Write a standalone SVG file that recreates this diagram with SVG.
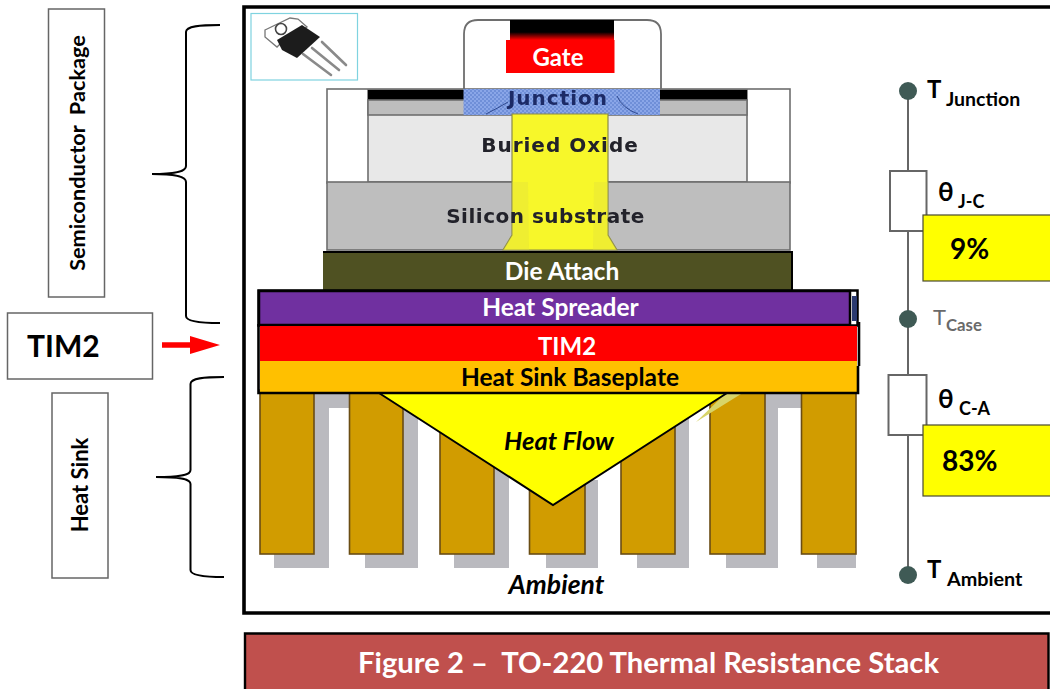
<svg xmlns="http://www.w3.org/2000/svg" width="1050" height="689" viewBox="0 0 1050 689">
<style>
text{font-family:Lato,"Liberation Sans",sans-serif;font-weight:700}
.w{fill:#fff;text-anchor:middle}
.k{fill:#000;text-anchor:middle}
.pk{font-family:"DejaVu Sans",sans-serif;fill:#24242c;text-anchor:middle;font-size:20px}
.fin{fill:#d19c00;stroke:#6a4d14;stroke-width:1.6}
.sh{fill:#bababf}
.lbl{fill:#fff;stroke:#666;stroke-width:1.5}
.brace{fill:none;stroke:#000;stroke-width:2}
.res{fill:#fff;stroke:#666;stroke-width:2}
.dot{fill:#3f5a55}
.yl{fill:#ff0;stroke:#4a4a30;stroke-width:1.2}
.wire{stroke:#666;stroke-width:2;fill:none}
.gr{stroke:#6e6e6e;stroke-width:1.6}
.lead{stroke:#8a8a8a;stroke-width:2.6;stroke-linecap:round}
</style>
<defs>
<pattern id="dots" width="4" height="4" patternUnits="userSpaceOnUse"><rect width="4" height="4" fill="#8aa6e8"/><rect width="2" height="2" fill="#6f8fd8"/><rect x="2" y="2" width="2" height="2" fill="#6f8fd8"/></pattern>
<linearGradient id="blackred" x1="0" y1="0" x2="0" y2="1"><stop offset="0" stop-color="#000"/><stop offset="0.6" stop-color="#000"/><stop offset="1" stop-color="#f00"/></linearGradient>
<filter id="soft" x="-5%" y="-5%" width="110%" height="110%"><feGaussianBlur stdDeviation="0.55"/></filter>
</defs>

<rect x="0" y="0" width="1050" height="689" fill="#fff"/>

<g id="frame"><path d="M1050 7H244V613H1050" fill="none" stroke="#000" stroke-width="3.6"/></g>

<g id="package-icon">
<rect x="251" y="13.500" width="106.500" height="66.500" fill="#fff" stroke="#7fd3e0" stroke-width="1.200"/>
<g filter="url(#soft)">
<line class="lead" x1="303" y1="54" x2="331" y2="75"/>
<line class="lead" x1="312" y1="48" x2="339" y2="70"/>
<line class="lead" x1="322" y1="42" x2="346" y2="65"/>
<path d="M265 30L290 18L298 19L307 27L280 44L277 47L265 37Z" fill="#fff" stroke="#777" stroke-width="1.300"/>
<circle cx="281" cy="29" r="5.500" fill="#fff" stroke="#444" stroke-width="1.600"/>
<path d="M277 40L302 25L320 37L297 58L282 50Z" fill="#1c1c1c"/>
</g>
</g>

<g id="fins">
<g filter="url(#soft)">
<rect class="sh" x="314" y="392" width="36" height="16"/>
<rect class="sh" x="765" y="392" width="37" height="16"/>
<rect class="sh" x="314" y="394" width="15" height="174"/><rect class="sh" x="274" y="554" width="55" height="14"/>
<rect class="sh" x="403" y="394" width="15" height="174"/><rect class="sh" x="365" y="554" width="53" height="14"/>
<rect class="sh" x="494" y="394" width="15" height="174"/><rect class="sh" x="454" y="554" width="55" height="14"/>
<rect class="sh" x="585" y="480" width="13" height="88"/><rect class="sh" x="546" y="554" width="52" height="14"/>
<rect class="sh" x="675" y="394" width="14" height="174"/><rect class="sh" x="637" y="554" width="52" height="14"/>
<rect class="sh" x="765" y="394" width="13" height="174"/><rect class="sh" x="726" y="554" width="52" height="14"/>
<rect class="sh" x="817" y="554" width="39" height="14"/>
</g>
<rect class="fin" x="260" y="390" width="54" height="164"/>
<rect class="fin" x="349.500" y="390" width="53.500" height="164"/>
<rect class="fin" x="440" y="390" width="54" height="164"/>
<rect class="fin" x="529.500" y="390" width="55.500" height="164"/>
<rect class="fin" x="621" y="390" width="54" height="164"/>
<rect class="fin" x="710" y="390" width="55" height="164"/>
<rect class="fin" x="801.500" y="390" width="54.500" height="164"/>
</g>

<g id="heat-flow">
<path d="M725 394H741L696 422Z" fill="#d8d468"/>
<path d="M379 393L553 505L727 393Z" fill="#ff0"/>
<path d="M379 393L553 505L727 393" fill="none" stroke="#000" stroke-width="2"/>
<text x="559" y="450" class="k" font-size="25.500" font-style="italic">Heat Flow</text>
</g>

<g id="gate-housing" filter="url(#soft)">
<path d="M464 90V34Q464 20 478 20H647Q661 20 661 34V90" fill="#fff" stroke="#6e6e6e" stroke-width="1.800"/>
<rect x="510" y="20" width="104" height="20" fill="url(#blackred)"/>
</g>
<g id="gate">
<rect x="506" y="40" width="108.500" height="33" fill="#f00"/>
<text x="558" y="66" class="w" font-size="24">Gate</text>
</g>

<g id="die-stack" filter="url(#soft)">
<rect x="327" y="89" width="463" height="94" fill="#fff" class="gr"/>
<rect x="368" y="90" width="379" height="92" fill="#e8e8e8" class="gr"/>
<rect x="368" y="90" width="379" height="10" fill="#000"/>
<rect x="368" y="100" width="379" height="15" fill="#bdbdbd" class="gr"/>
<rect x="327" y="182" width="463" height="68" fill="#bebebe" class="gr"/>
</g>
<g id="junction">
<rect x="463.500" y="89" width="196.500" height="26" fill="url(#dots)"/>
<path d="M486 114Q498 108 508 102M617 96Q622 108 638 114" fill="none" stroke="#2f4a90" stroke-width="1"/>
</g>
<g id="heat-column">
<path d="M512 114H608V235L617 250H503L512 235Z" fill="#f7f72a" stroke="#8a8a4a" stroke-width="1.200"/>
<path d="M512 182H528L529 250H503L512 235ZM608 182H594L593 250H617L608 235Z" fill="#e0dc40" opacity="0.35"/>
</g>
<g id="die-labels" filter="url(#soft)">
<text x="558" y="105" class="pk" letter-spacing="1" style="fill:#1c2a66">Junction</text>
<text x="560" y="152" class="pk" letter-spacing="1">Buried Oxide</text>
<text x="545.500" y="223" class="pk" letter-spacing="0.500">Silicon substrate</text>
</g>

<g id="die-attach">
<path d="M323 252H792V290H323Z" fill="#4f5122"/>
<path d="M323 252H792V290" fill="none" stroke="#000" stroke-width="2"/>
<text x="562" y="280" class="w" font-size="24.500">Die Attach</text>
</g>

<g id="heat-spreader">
<rect x="258.500" y="290.500" width="599" height="35" fill="#fff" stroke="#000" stroke-width="2.500"/>
<rect x="852" y="296" width="5" height="25" fill="#2a3a70"/>
<rect x="259" y="291" width="591" height="34" fill="#7030a0" stroke="#000" stroke-width="2.500"/>
<text x="560.500" y="316" class="w" font-size="24.500">Heat Spreader</text>
</g>

<g id="tim2-layer">
<rect x="260" y="326" width="597" height="35" fill="#f00"/>
<text x="567" y="355" class="w" font-size="24">TIM2</text>
</g>

<g id="baseplate">
<rect x="260" y="361" width="597" height="31" fill="#ffc000"/>
<path d="M258.500 324V393H858V366M859 322V366" fill="none" stroke="#000" stroke-width="2.600"/>
<text x="570" y="386" class="k" font-size="24.500">Heat Sink Baseplate</text>
</g>

<g id="ambient"><text x="556.500" y="594" class="k" font-size="26.500" font-style="italic">Ambient</text></g>

<g id="connectors">
<line class="wire" x1="908" y1="92" x2="908" y2="575"/>
<path class="brace" d="M220 25C200 25 186 26 186 32V166C186 171 178 174 152 174C178 174 186 177 186 182V316C186 321 200 323 220 323"/>
<path class="brace" d="M224 377C204 377 190.500 378 190.500 384V470C190.500 475 182 477 156 477C182 477 190.500 479 190.500 484V570C190.500 575 204 577 224 577"/>
<path d="M162 342.300H190V336L220 345L190 354V347.700H162Z" fill="#f00"/>
</g>

<g id="t-junction">
<circle class="dot" cx="908" cy="91" r="9"/>
<text x="927" y="98" font-size="24" fill="#000">T</text><text x="946" y="105.500" font-size="19.500" fill="#000">Junction</text>
</g>
<g id="theta-jc">
<rect class="res" x="890" y="171" width="36.500" height="60"/>
<text x="938" y="201" font-size="26" fill="#000">θ</text><text x="958" y="208" font-size="18" fill="#000">J-C</text>
</g>
<g id="pct-9">
<rect class="yl" x="923" y="215" width="140" height="66"/>
<text x="950" y="259" font-size="28" fill="#000">9%</text>
</g>
<g id="t-case">
<circle class="dot" cx="908" cy="319" r="9"/>
<text x="933" y="325" font-size="22" fill="#6a6a6a" style="font-weight:400">T</text><text x="946" y="331" font-size="16.800" fill="#6a6a6a">Case</text>
</g>
<g id="theta-ca">
<rect class="res" x="888.500" y="375" width="38" height="60"/>
<text x="938" y="408" font-size="26" fill="#000">θ</text><text x="959" y="415" font-size="18" fill="#000">C-A</text>
</g>
<g id="pct-83">
<rect class="yl" x="923" y="425" width="140" height="71"/>
<text x="942" y="471" font-size="28" fill="#000">83%</text>
</g>
<g id="t-ambient">
<circle class="dot" cx="908" cy="575" r="9"/>
<text x="927" y="578" font-size="24" fill="#000">T</text><text x="947" y="585.500" font-size="19.800" fill="#000">Ambient</text>
</g>

<g id="label-package">
<rect class="lbl" x="48.500" y="9" width="56" height="288"/>
<text transform="translate(85 153) rotate(-90)" class="k" font-size="21.700" xml:space="preserve">Semiconductor  Package</text>
</g>
<g id="label-tim2">
<rect class="lbl" x="7.500" y="313" width="145" height="66"/>
<text x="27" y="356.500" font-size="30" fill="#000">TIM2</text>
</g>
<g id="label-heatsink">
<rect class="lbl" x="52" y="393" width="56" height="185"/>
<text transform="translate(88 485) rotate(-90)" class="k" font-size="22">Heat Sink</text>
</g>

<g id="caption">
<path d="M245 689V633.500H1048.500V689" fill="#c0504d" stroke="#000" stroke-width="2.400"/>
<text x="648.500" y="673" class="w" font-size="29.200" xml:space="preserve">Figure 2 –  TO-220 Thermal Resistance Stack</text>
</g>
</svg>
